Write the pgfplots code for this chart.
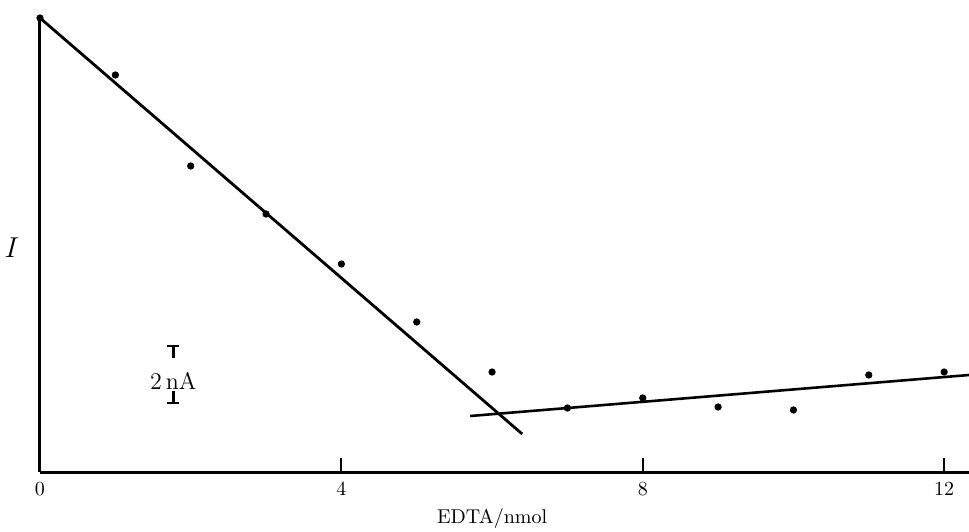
\documentclass[border=0pt]{standalone}
\usepackage{pgfplots}
\pgfplotsset{compat=1.18}

\begin{document}
\begin{tikzpicture}
% fix the page to the reference proportions (1px = 0.5pt)
\useasboundingbox (-20pt,-29.5pt) rectangle (464.5pt,236pt);
\begin{axis}[
  scale only axis,
  width=464.5pt, height=227pt,
  xmin=0, xmax=12.33, ymin=0, ymax=45.4,
  axis x line*=bottom, axis y line*=left,
  axis line style={line width=1.5pt},
  xtick={0,4,8,12}, ytick=\empty,
  tick style={black, line width=0.9pt},
  major tick length=7pt,
  tick align=inside,
  xticklabel style={yshift=-2pt},
  clip=false,
]
  % measured points
  \addplot[only marks, mark=*, mark size=1.6pt, black]
    coordinates {(0,45.4)(1,39.7)(2,30.6)(3,25.8)(4,20.8)(5,15.0)(6,10.0)
                 (7,6.4)(8,7.4)(9,6.5)(10,6.2)(11,9.7)(12,10.0)};
  % fitted lines
  \addplot[black, line width=1.4pt] coordinates {(0,45.4)(6.40,3.8)};
  \addplot[black, line width=1.3pt] coordinates {(5.71,5.6)(12.33,9.7)};

  % scale bar
  \draw[line width=1.2pt] (axis cs:1.69,12.6) -- (axis cs:1.85,12.6);
  \draw[line width=1.2pt] (axis cs:1.77,12.6) -- (axis cs:1.77,11.4);
  \draw[line width=1.2pt] (axis cs:1.69,6.9) -- (axis cs:1.85,6.9);
  \draw[line width=1.2pt] (axis cs:1.77,6.9) -- (axis cs:1.77,8.1);
  \node[font=\large] at (axis cs:1.77,9.1) {2\,nA};

  \node[font=\Large] at (axis cs:0,22.4) [xshift=-14pt] {$I$};
  \node at (axis cs:6,0) [yshift=-23pt] {EDTA/nmol};
\end{axis}
\end{tikzpicture}
\end{document}
